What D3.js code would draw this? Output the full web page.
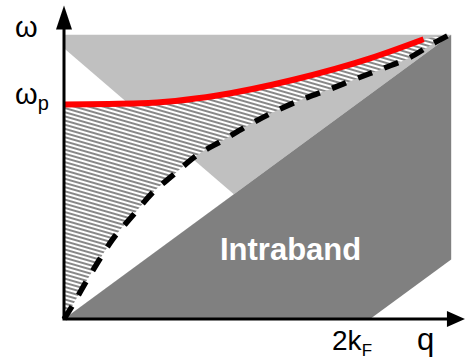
<!DOCTYPE html>
<html>
<head>
<meta charset="utf-8">
<script src="https://cdn.jsdelivr.net/npm/d3@7"></script>
<style>
  html, body { margin: 0; padding: 0; background: #fff; }
  svg { display: block; }
</style>
</head>
<body>
<svg id="chart" width="466" height="362"></svg>
<script>
// Regions of the (q, ω) plane, in units where k_F = 1 and v = 1
const windowMax = [2.53, 2.53];                       // top-right corner of the shaded window
const intrabandRegion = [[0, 0], [2.53, 2.53], [2.53, 0.53], [2, 0]];
const interbandRegion = [[0, 0], [0, 2.53], [2.53, 2.53]];
const blockedRegion = [[0, 0], [0, 2.41], [1.11, 1.11]];

// Plasmon branch (red) and its lower-bound curve (dashed)
const plasmonQ = [0, 0.5, 1.0, 1.5, 2.0, 2.35];
const plasmonW = [1.91, 1.92, 1.99, 2.13, 2.32, 2.49];
const dashedQ = [0, 0.06, 0.124, 0.222, 0.314, 0.451, 0.575, 0.712, 0.869, 1.039, 1.203, 1.366, 1.542, 1.719, 1.915, 2.085, 2.261, 2.425, 2.51];
const dashedW = [0, 0.13, 0.284, 0.507, 0.702, 0.924, 1.12, 1.28, 1.458, 1.591, 1.724, 1.84, 1.947, 2.036, 2.142, 2.231, 2.329, 2.462, 2.524];

// Axis labels
const omegaP = 1.91;
const twoKF = 2;
const axisEnd = [2.62, 2.79];

const svg = d3.select("#chart");
const x = d3.scaleLinear().domain([0, 2.64]).range([64, 468]);
const y = d3.scaleLinear().domain([0, 2.84]).range([319, 0]);

const defs = svg.append("defs");
const pat = defs.append("pattern")
  .attr("id", "hatch")
  .attr("patternUnits", "userSpaceOnUse")
  .attr("width", 12).attr("height", 4)
  .attr("patternTransform", "rotate(16)");
pat.append("rect").attr("width", 12).attr("height", 4).attr("fill", "#ffffff");
pat.append("line")
  .attr("x1", 0).attr("x2", 12).attr("y1", 2).attr("y2", 2)
  .attr("stroke", "#111").attr("stroke-width", 1);

const poly = pts => "M" + pts.map(p => x(p[0]) + "," + y(p[1])).join("L") + "Z";

svg.append("path").attr("d", poly(interbandRegion)).attr("fill", "#c0c0c0");
svg.append("path").attr("d", poly(blockedRegion)).attr("fill", "#ffffff");
svg.append("path").attr("d", poly(intrabandRegion)).attr("fill", "#808080");

const plasmon = plasmonQ.map((q, i) => [q, plasmonW[i]]);
const dashed = dashedQ.map((q, i) => [q, dashedW[i]]);

const line = d3.line().x(d => x(d[0])).y(d => y(d[1])).curve(d3.curveMonotoneX);

// Hatched band between the plasmon branch and the dashed curve
const bandPath = line(plasmon) +
  "L" + x(windowMax[0] - 0.02) + "," + y(windowMax[1]) +
  line(dashed.slice().reverse()).replace(/^M/, "L") + "Z";
svg.append("path").attr("d", bandPath).attr("fill", "url(#hatch)");

svg.append("path").attr("d", line(plasmon))
  .attr("fill", "none").attr("stroke", "#ff0000").attr("stroke-width", 6);

svg.append("path").attr("d", line(dashed))
  .attr("fill", "none").attr("stroke", "#000").attr("stroke-width", 5.5)
  .attr("stroke-dasharray", "15,13");

// Axes with arrowheads
svg.append("line")
  .attr("x1", x(0)).attr("y1", y(0)).attr("x2", x(0)).attr("y2", y(axisEnd[1]) + 20)
  .attr("stroke", "#000").attr("stroke-width", 3);
svg.append("line")
  .attr("x1", x(0) - 1.5).attr("y1", y(0)).attr("x2", x(axisEnd[0]) - 16).attr("y2", y(0))
  .attr("stroke", "#000").attr("stroke-width", 3);
svg.append("path")
  .attr("d", `M${x(0)},${y(axisEnd[1])}L${x(0) - 8},${y(axisEnd[1]) + 24}L${x(0) + 8},${y(axisEnd[1]) + 24}Z`)
  .attr("fill", "#000");
svg.append("path")
  .attr("d", `M${x(axisEnd[0])},${y(0)}L${x(axisEnd[0]) - 18},${y(0) - 8}L${x(axisEnd[0]) - 18},${y(0) + 8}Z`)
  .attr("fill", "#000");

const font = "Liberation Sans, Arial, sans-serif";

svg.append("text").attr("x", 15).attr("y", 37)
  .attr("font-family", font).attr("font-size", 29).text("ω");

const wp = svg.append("text").attr("x", 15).attr("y", y(omegaP))
  .attr("font-family", font).attr("font-size", 29);
wp.append("tspan").text("ω");
wp.append("tspan").attr("font-size", 20).attr("dy", 6).text("p");

const kf = svg.append("text").attr("x", x(twoKF) - 38).attr("y", 350)
  .attr("font-family", font).attr("font-size", 28);
kf.append("tspan").text("2k");
kf.append("tspan").attr("font-size", 17).attr("dy", 6).text("F");

svg.append("text").attr("x", 417).attr("y", 350)
  .attr("font-family", font).attr("font-size", 31).text("q");

svg.append("text").attr("x", 220).attr("y", 260)
  .attr("font-family", font).attr("font-size", 31).attr("font-weight", "bold")
  .attr("fill", "#ffffff").text("Intraband");
</script>
</body>
</html>
